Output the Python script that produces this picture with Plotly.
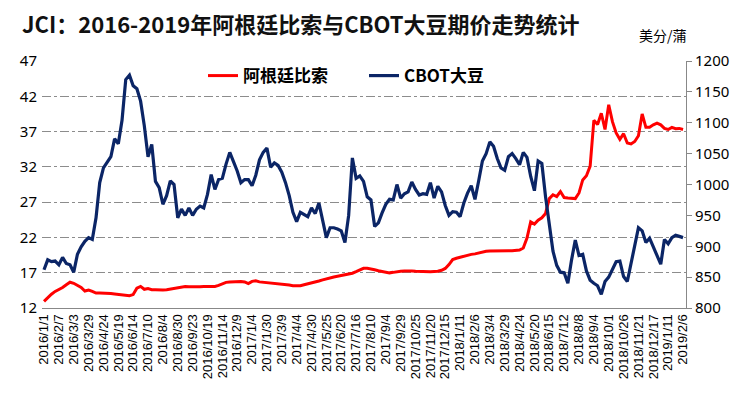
import plotly.graph_objects as go
import pandas as pd

# ---------------- data ----------------
label_dates = [
    "2016/1/1", "2016/2/7", "2016/3/3", "2016/3/29", "2016/4/24", "2016/5/19", "2016/6/14",
    "2016/7/10", "2016/8/4", "2016/8/30", "2016/9/23", "2016/10/19", "2016/11/14", "2016/12/9",
    "2017/1/4", "2017/1/30", "2017/3/9", "2017/4/4", "2017/4/30", "2017/5/25", "2017/6/20",
    "2017/7/16", "2017/8/10", "2017/9/4", "2017/9/29", "2017/10/25", "2017/11/20", "2017/12/15",
    "2018/1/11", "2018/2/6", "2018/3/4", "2018/3/29", "2018/4/24", "2018/5/20", "2018/6/15",
    "2018/7/12", "2018/8/8", "2018/9/4", "2018/10/1", "2018/10/26", "2018/11/21", "2018/12/17",
    "2019/1/11", "2019/2/6",
]

# CBOT soybean futures (US cents / bushel), right axis
soy_values = [
    862, 878, 875, 876, 870, 882, 872, 870, 858, 887,
    899, 908, 914, 911, 946, 1003, 1027, 1035, 1045, 1074,
    1066, 1104, 1170, 1177, 1160, 1155, 1135, 1095, 1045, 1065,
    1005, 995, 968, 982, 1006, 1000, 946, 960, 950, 962,
    950, 960, 965, 962, 984, 1016, 992, 1008, 1010, 1033,
    1052, 1037, 1022, 1003, 1008, 1008, 998, 1015, 1040, 1052,
    1059, 1028, 1035, 1031, 1020, 1003, 982, 955, 940, 955,
    952, 948, 962, 953, 970, 942, 914, 930, 930, 928,
    925, 906, 950, 1043, 1010, 1014, 1005, 980, 975, 932,
    938, 954, 968, 976, 975, 1000, 978, 985, 988, 1004,
    992, 983, 985, 984, 1003, 978, 997, 988, 966, 950,
    956, 955, 948, 970, 986, 998, 976, 1006, 1038, 1050,
    1069, 1062, 1042, 1027, 1023, 1045, 1050, 1042, 1032, 1052,
    1044, 1013, 990, 1038, 1034, 980, 932, 892, 869, 858,
    857, 840, 878, 910, 885, 887, 860, 845, 840, 836,
    822, 843, 850, 863, 875, 876, 851, 843, 874, 905,
    930, 925, 906, 913, 898, 886, 871, 911, 904, 914,
    918, 916, 914,
]

# Argentine peso (per USD), left axis
peso_values = [
    12.95, 13.5, 13.95, 14.35, 14.6, 14.9, 15.3, 15.65, 15.5, 15.2,
    14.9, 14.4, 14.55, 14.35, 14.12, 14.12, 14.12, 14.1, 14.05, 14.0,
    13.95, 13.9, 13.8, 13.75, 13.9, 14.8, 15.06, 14.65, 14.75, 14.6,
    14.6, 14.55, 14.55, 14.6, 14.7, 14.8, 14.85, 14.95, 15.05, 15.0,
    14.98, 14.97, 15.0, 15.05, 15.06, 15.06, 15.06, 15.2, 15.45, 15.63,
    15.7, 15.75, 15.77, 15.77, 15.7, 15.45, 15.77, 15.85, 15.7, 15.65,
    15.58, 15.55, 15.54, 15.5, 15.4, 15.32, 15.25, 15.17, 15.16, 15.17,
    15.3, 15.42, 15.5, 15.63, 15.82, 15.98, 16.15, 16.27, 16.4, 16.5,
    16.6, 16.69, 16.8, 16.93, 17.15, 17.44, 17.62, 17.62, 17.57, 17.42,
    17.28, 17.15, 17.05, 16.98, 17.05, 17.18, 17.22, 17.25, 17.28, 17.24,
    17.2, 17.17, 17.14, 17.1, 17.13, 17.16, 17.2, 17.35, 17.6, 18.15,
    18.86, 19.05, 19.2, 19.32, 19.5, 19.6, 19.67, 19.8, 19.93, 20.03,
    20.07, 20.1, 20.12, 20.12, 20.12, 20.12, 20.12, 20.14, 20.22, 20.5,
    21.9, 24.2, 23.9, 24.45, 24.78, 25.4, 27.5, 28.05, 27.8, 28.5,
    27.65, 27.58, 27.5, 27.5, 28.3, 30.15, 30.75, 32.1, 38.6, 38.0,
    39.6, 37.3, 40.8, 38.4, 36.8, 35.9, 36.7, 35.37, 35.25, 35.6,
    36.4, 39.5, 37.6, 37.6, 37.95, 38.2, 37.95, 37.45, 37.3, 37.6,
    37.4, 37.45, 37.3,
]

SUB = 4  # observations per labelled interval

# category list of dates (labels plus intermediate observation dates)
ld = pd.to_datetime(label_dates, format="%Y/%m/%d")
def fmt(d):
    return f"{d.year}/{d.month}/{d.day}"
categories = []
for a, b in zip(ld[:-1], ld[1:]):
    for j in range(SUB):
        categories.append(fmt(a + (b - a) * j / SUB))
categories.append(fmt(ld[-1]))

RED = "#ff0000"
BLUE = "#0b2566"
FONT = "Noto Sans CJK SC"

W, H = 738, 387  # page body has an 8px margin in the 746x395 window

fig = go.Figure()
fig.add_trace(go.Scatter(
    x=categories, y=peso_values, name="阿根廷比索", mode="lines",
    line=dict(color=RED, width=3), yaxis="y",
))
fig.add_trace(go.Scatter(
    x=categories, y=soy_values, name="CBOT大豆", mode="lines",
    line=dict(color=BLUE, width=3.2), yaxis="y2",
))

fig.update_layout(
    width=W, height=H,
    margin=dict(l=30, r=60, t=53, b=87),
    paper_bgcolor="white", plot_bgcolor="white",
    font=dict(family=FONT, color="#000"),
    title=dict(
        text="JCI：2016-2019年阿根廷比索与CBOT大豆期价走势统计",
        x=14 / W, xanchor="left", y=1 - 17 / H, yanchor="middle",
        font=dict(family=FONT, size=22, color="#111", weight="bold"),
    ),
    showlegend=True,
    legend=dict(
        orientation="h", x=0.25, y=1.012, xanchor="left", yanchor="top",
        font=dict(family=FONT, size=17, color="#000", weight="bold"),
        bgcolor="rgba(0,0,0,0)", entrywidth=116, entrywidthmode="pixels",
        itemwidth=30, tracegroupgap=0,
    ),
    xaxis=dict(
        type="category", categoryorder="array", categoryarray=categories,
        range=[-0.54, len(categories) - 1 + 0.8],
        tickmode="array", tickvals=label_dates, ticktext=label_dates,
        tickangle=-90, tickfont=dict(family="Liberation Sans", size=13, color="#000"),
        showgrid=False, showline=True, linecolor="#888", linewidth=1,
        ticks="", zeroline=False,
    ),
    yaxis=dict(
        range=[12, 47], tickvals=[12, 17, 22, 27, 32, 37, 42, 47],
        tickfont=dict(family="Noto Sans", size=15, color="#000"),
        showgrid=True, gridcolor="#8c8c8c", griddash="dashdot", gridwidth=1,
        showline=False, zeroline=False, ticks="", ticklabelstandoff=4,
    ),
    yaxis2=dict(
        range=[800, 1200], dtick=50, overlaying="y", side="right",
        tickfont=dict(family="Noto Sans", size=15, color="#000"),
        showgrid=False, showline=True, linecolor="#888", linewidth=1,
        ticks="outside", ticklen=5, tickcolor="#888", zeroline=False,
    ),
    annotations=[dict(
        text="美分/蒲", xref="paper", yref="paper", x=1.004, y=1 + 26 / 247,
        xanchor="right", yanchor="middle", showarrow=False,
        font=dict(family=FONT, size=14, color="#000"),
    )],
)

fig.write_html("out.html")
